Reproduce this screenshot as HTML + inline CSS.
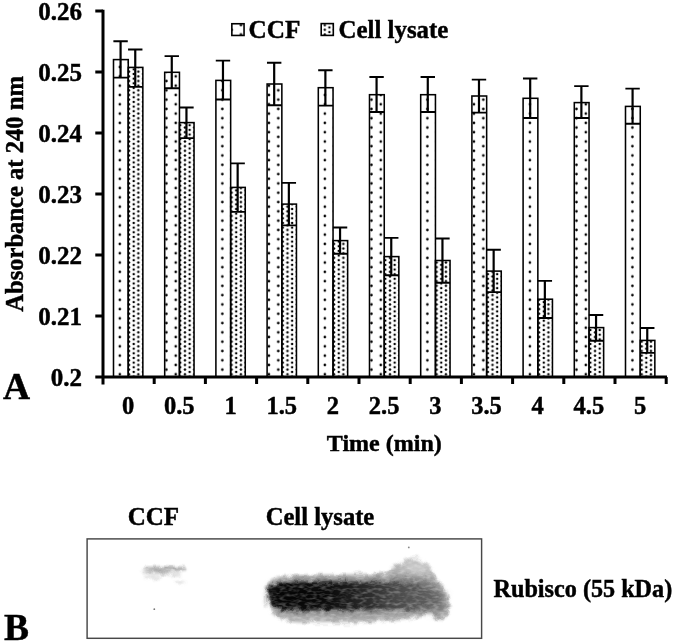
<!DOCTYPE html>
<html><head><meta charset="utf-8"><style>html,body{margin:0;padding:0;background:#fff;width:675px;height:642px;overflow:hidden}svg{display:block;will-change:transform}</style></head>
<body>
<svg width="675" height="642" viewBox="0 0 675 642">
<defs>
<pattern id="pc" patternUnits="userSpaceOnUse" x="119.8" y="1.9" width="18.64" height="9.31">
<circle cx="0" cy="0" r="1.3"/><circle cx="18.64" cy="0" r="1.3"/><circle cx="0" cy="9.31" r="1.3"/><circle cx="18.64" cy="9.31" r="1.3"/>
<circle cx="9.32" cy="4.655" r="1.3"/></pattern>
<pattern id="pl" patternUnits="userSpaceOnUse" x="133.7" y="302.1" width="9.32" height="4.655">
<circle cx="0" cy="0" r="1.25"/><circle cx="9.32" cy="0" r="1.25"/><circle cx="0" cy="4.655" r="1.25"/><circle cx="9.32" cy="4.655" r="1.25"/>
<circle cx="4.66" cy="2.3275" r="1.25"/></pattern>
<filter id="bl" x="-20%" y="-50%" width="140%" height="200%" color-interpolation-filters="sRGB"><feGaussianBlur stdDeviation="3"/></filter>
<filter id="bl2" x="-20%" y="-50%" width="140%" height="200%" color-interpolation-filters="sRGB"><feGaussianBlur stdDeviation="1.5"/></filter>
</defs>
<rect width="675" height="642" fill="#fff"/>

<rect x="113.50" y="59.60" width="14.75" height="317.40" fill="url(#pc)" stroke="#000" stroke-width="1.55"/>
<rect x="128.25" y="67.40" width="14.60" height="309.60" fill="url(#pl)" stroke="#000" stroke-width="1.55"/>
<rect x="164.70" y="72.30" width="14.75" height="304.70" fill="url(#pc)" stroke="#000" stroke-width="1.55"/>
<rect x="179.45" y="122.60" width="14.60" height="254.40" fill="url(#pl)" stroke="#000" stroke-width="1.55"/>
<rect x="215.90" y="80.40" width="14.75" height="296.60" fill="url(#pc)" stroke="#000" stroke-width="1.55"/>
<rect x="230.65" y="187.40" width="14.60" height="189.60" fill="url(#pl)" stroke="#000" stroke-width="1.55"/>
<rect x="267.10" y="84.00" width="14.75" height="293.00" fill="url(#pc)" stroke="#000" stroke-width="1.55"/>
<rect x="281.85" y="204.10" width="14.60" height="172.90" fill="url(#pl)" stroke="#000" stroke-width="1.55"/>
<rect x="318.30" y="87.70" width="14.75" height="289.30" fill="url(#pc)" stroke="#000" stroke-width="1.55"/>
<rect x="333.05" y="240.60" width="14.60" height="136.40" fill="url(#pl)" stroke="#000" stroke-width="1.55"/>
<rect x="369.50" y="94.70" width="14.75" height="282.30" fill="url(#pc)" stroke="#000" stroke-width="1.55"/>
<rect x="384.25" y="256.60" width="14.60" height="120.40" fill="url(#pl)" stroke="#000" stroke-width="1.55"/>
<rect x="420.70" y="94.70" width="14.75" height="282.30" fill="url(#pc)" stroke="#000" stroke-width="1.55"/>
<rect x="435.45" y="260.50" width="14.60" height="116.50" fill="url(#pl)" stroke="#000" stroke-width="1.55"/>
<rect x="471.90" y="96.00" width="14.75" height="281.00" fill="url(#pc)" stroke="#000" stroke-width="1.55"/>
<rect x="486.65" y="271.10" width="14.60" height="105.90" fill="url(#pl)" stroke="#000" stroke-width="1.55"/>
<rect x="523.10" y="98.30" width="14.75" height="278.70" fill="url(#pc)" stroke="#000" stroke-width="1.55"/>
<rect x="537.85" y="299.20" width="14.60" height="77.80" fill="url(#pl)" stroke="#000" stroke-width="1.55"/>
<rect x="574.30" y="102.60" width="14.75" height="274.40" fill="url(#pc)" stroke="#000" stroke-width="1.55"/>
<rect x="589.05" y="327.60" width="14.60" height="49.40" fill="url(#pl)" stroke="#000" stroke-width="1.55"/>
<rect x="625.50" y="106.40" width="14.75" height="270.60" fill="url(#pc)" stroke="#000" stroke-width="1.55"/>
<rect x="640.25" y="340.40" width="14.60" height="36.60" fill="url(#pl)" stroke="#000" stroke-width="1.55"/>
<path d="M113.50 77.60H128.25M113.38 41.30H127.78" stroke="#000" stroke-width="1.9" fill="none"/>
<path d="M120.58 41.30V77.60" stroke="#000" stroke-width="2.2" fill="none"/>
<path d="M128.25 86.90H142.85M128.05 49.50H142.45" stroke="#000" stroke-width="1.9" fill="none"/>
<path d="M135.25 49.50V86.90" stroke="#000" stroke-width="2.2" fill="none"/>
<path d="M164.70 88.20H179.45M164.57 56.10H178.97" stroke="#000" stroke-width="1.9" fill="none"/>
<path d="M171.77 56.10V88.20" stroke="#000" stroke-width="2.2" fill="none"/>
<path d="M179.45 138.10H194.05M179.25 107.50H193.65" stroke="#000" stroke-width="1.9" fill="none"/>
<path d="M186.45 107.50V138.10" stroke="#000" stroke-width="2.2" fill="none"/>
<path d="M215.90 99.50H230.65M215.78 60.60H230.17" stroke="#000" stroke-width="1.9" fill="none"/>
<path d="M222.97 60.60V99.50" stroke="#000" stroke-width="2.2" fill="none"/>
<path d="M230.65 211.90H245.25M230.45 163.40H244.85" stroke="#000" stroke-width="1.9" fill="none"/>
<path d="M237.65 163.40V211.90" stroke="#000" stroke-width="2.2" fill="none"/>
<path d="M267.10 105.30H281.85M266.98 62.80H281.38" stroke="#000" stroke-width="1.9" fill="none"/>
<path d="M274.18 62.80V105.30" stroke="#000" stroke-width="2.2" fill="none"/>
<path d="M281.85 225.40H296.45M281.65 182.90H296.05" stroke="#000" stroke-width="1.9" fill="none"/>
<path d="M288.85 182.90V225.40" stroke="#000" stroke-width="2.2" fill="none"/>
<path d="M318.30 105.60H333.05M318.18 70.20H332.57" stroke="#000" stroke-width="1.9" fill="none"/>
<path d="M325.38 70.20V105.60" stroke="#000" stroke-width="2.2" fill="none"/>
<path d="M333.05 253.70H347.65M332.85 227.50H347.25" stroke="#000" stroke-width="1.9" fill="none"/>
<path d="M340.05 227.50V253.70" stroke="#000" stroke-width="2.2" fill="none"/>
<path d="M369.50 112.00H384.25M369.38 77.00H383.77" stroke="#000" stroke-width="1.9" fill="none"/>
<path d="M376.57 77.00V112.00" stroke="#000" stroke-width="2.2" fill="none"/>
<path d="M384.25 275.20H398.85M384.05 237.90H398.45" stroke="#000" stroke-width="1.9" fill="none"/>
<path d="M391.25 237.90V275.20" stroke="#000" stroke-width="2.2" fill="none"/>
<path d="M420.70 112.00H435.45M420.58 77.00H434.98" stroke="#000" stroke-width="1.9" fill="none"/>
<path d="M427.78 77.00V112.00" stroke="#000" stroke-width="2.2" fill="none"/>
<path d="M435.45 282.70H450.05M435.25 238.50H449.65" stroke="#000" stroke-width="1.9" fill="none"/>
<path d="M442.45 238.50V282.70" stroke="#000" stroke-width="2.2" fill="none"/>
<path d="M471.90 112.60H486.65M471.78 79.60H486.18" stroke="#000" stroke-width="1.9" fill="none"/>
<path d="M478.98 79.60V112.60" stroke="#000" stroke-width="2.2" fill="none"/>
<path d="M486.65 292.10H501.25M486.45 249.80H500.85" stroke="#000" stroke-width="1.9" fill="none"/>
<path d="M493.65 249.80V292.10" stroke="#000" stroke-width="2.2" fill="none"/>
<path d="M523.10 118.00H537.85M522.98 78.50H537.38" stroke="#000" stroke-width="1.9" fill="none"/>
<path d="M530.18 78.50V118.00" stroke="#000" stroke-width="2.2" fill="none"/>
<path d="M537.85 318.00H552.45M537.65 280.90H552.05" stroke="#000" stroke-width="1.9" fill="none"/>
<path d="M544.85 280.90V318.00" stroke="#000" stroke-width="2.2" fill="none"/>
<path d="M574.30 118.00H589.05M574.17 86.10H588.58" stroke="#000" stroke-width="1.9" fill="none"/>
<path d="M581.38 86.10V118.00" stroke="#000" stroke-width="2.2" fill="none"/>
<path d="M589.05 340.70H603.65M588.85 315.00H603.25" stroke="#000" stroke-width="1.9" fill="none"/>
<path d="M596.05 315.00V340.70" stroke="#000" stroke-width="2.2" fill="none"/>
<path d="M625.50 123.70H640.25M625.38 88.60H639.78" stroke="#000" stroke-width="1.9" fill="none"/>
<path d="M632.58 88.60V123.70" stroke="#000" stroke-width="2.2" fill="none"/>
<path d="M640.25 352.90H654.85M640.05 328.00H654.45" stroke="#000" stroke-width="1.9" fill="none"/>
<path d="M647.25 328.00V352.90" stroke="#000" stroke-width="2.2" fill="none"/>
<path d="M103 9.8V384.5M95.3 377H667" stroke="#000" stroke-width="3" fill="none"/>
<path d="M95.3 316.00H103M95.3 255.00H103M95.3 194.00H103M95.3 133.00H103M95.3 72.00H103M95.3 11.00H103" stroke="#000" stroke-width="2.8" fill="none"/>
<path d="M154.20 377V384M205.40 377V384M256.60 377V384M307.80 377V384M359.00 377V384M410.20 377V384M461.40 377V384M512.60 377V384M563.80 377V384M615.00 377V384M666.20 377V384" stroke="#000" stroke-width="3" fill="none"/>
<text x="82" y="385.50" font-family="Liberation Serif" font-weight="bold" stroke="#000" stroke-width="0.45" font-size="25" text-anchor="end">0.2</text>
<text x="82" y="324.50" font-family="Liberation Serif" font-weight="bold" stroke="#000" stroke-width="0.45" font-size="25" text-anchor="end">0.21</text>
<text x="82" y="263.50" font-family="Liberation Serif" font-weight="bold" stroke="#000" stroke-width="0.45" font-size="25" text-anchor="end">0.22</text>
<text x="82" y="202.50" font-family="Liberation Serif" font-weight="bold" stroke="#000" stroke-width="0.45" font-size="25" text-anchor="end">0.23</text>
<text x="82" y="141.50" font-family="Liberation Serif" font-weight="bold" stroke="#000" stroke-width="0.45" font-size="25" text-anchor="end">0.24</text>
<text x="82" y="80.50" font-family="Liberation Serif" font-weight="bold" stroke="#000" stroke-width="0.45" font-size="25" text-anchor="end">0.25</text>
<text x="82" y="19.50" font-family="Liberation Serif" font-weight="bold" stroke="#000" stroke-width="0.45" font-size="25" text-anchor="end">0.26</text>
<text x="128.10" y="414" font-family="Liberation Serif" font-weight="bold" stroke="#000" stroke-width="0.45" font-size="24.5" text-anchor="middle">0</text>
<text x="179.30" y="414" font-family="Liberation Serif" font-weight="bold" stroke="#000" stroke-width="0.45" font-size="24.5" text-anchor="middle">0.5</text>
<text x="230.50" y="414" font-family="Liberation Serif" font-weight="bold" stroke="#000" stroke-width="0.45" font-size="24.5" text-anchor="middle">1</text>
<text x="281.70" y="414" font-family="Liberation Serif" font-weight="bold" stroke="#000" stroke-width="0.45" font-size="24.5" text-anchor="middle">1.5</text>
<text x="332.90" y="414" font-family="Liberation Serif" font-weight="bold" stroke="#000" stroke-width="0.45" font-size="24.5" text-anchor="middle">2</text>
<text x="384.10" y="414" font-family="Liberation Serif" font-weight="bold" stroke="#000" stroke-width="0.45" font-size="24.5" text-anchor="middle">2.5</text>
<text x="435.30" y="414" font-family="Liberation Serif" font-weight="bold" stroke="#000" stroke-width="0.45" font-size="24.5" text-anchor="middle">3</text>
<text x="486.50" y="414" font-family="Liberation Serif" font-weight="bold" stroke="#000" stroke-width="0.45" font-size="24.5" text-anchor="middle">3.5</text>
<text x="537.70" y="414" font-family="Liberation Serif" font-weight="bold" stroke="#000" stroke-width="0.45" font-size="24.5" text-anchor="middle">4</text>
<text x="588.90" y="414" font-family="Liberation Serif" font-weight="bold" stroke="#000" stroke-width="0.45" font-size="24.5" text-anchor="middle">4.5</text>
<text x="640.10" y="414" font-family="Liberation Serif" font-weight="bold" stroke="#000" stroke-width="0.45" font-size="24.5" text-anchor="middle">5</text>
<text x="384.3" y="451" font-family="Liberation Serif" font-weight="bold" stroke="#000" stroke-width="0.45" font-size="24" text-anchor="middle">Time (min)</text>
<text transform="translate(23.1 193.95) rotate(-90)" font-family="Liberation Serif" font-weight="bold" stroke="#000" stroke-width="0.45" font-size="24.6" text-anchor="middle">Absorbance at 240 nm</text>
<text x="3" y="399.3" font-family="Liberation Serif" font-weight="bold" stroke="#000" stroke-width="0.45" font-size="37.5">A</text>
<text x="4" y="639.5" font-family="Liberation Serif" font-weight="bold" stroke="#000" stroke-width="0.45" font-size="37.5">B</text>
<rect x="231.85" y="23.75" width="12.2" height="11.7" fill="url(#pc)" stroke="#000" stroke-width="1.6"/>
<text x="248.5" y="37.5" font-family="Liberation Serif" font-weight="bold" stroke="#000" stroke-width="0.45" font-size="25.2">CCF</text>
<rect x="321.2" y="23.6" width="12.1" height="11.8" fill="url(#pl)" stroke="#000" stroke-width="1.6"/>
<text x="338.5" y="37.5" font-family="Liberation Serif" font-weight="bold" stroke="#000" stroke-width="0.45" font-size="24.9">Cell lysate</text>
<text x="153.4" y="524.8" font-family="Liberation Serif" font-weight="bold" stroke="#000" stroke-width="0.45" font-size="25" text-anchor="middle">CCF</text>
<text x="320" y="524.8" font-family="Liberation Serif" font-weight="bold" stroke="#000" stroke-width="0.45" font-size="24.6" text-anchor="middle">Cell lysate</text>
<text x="493.5" y="597" font-family="Liberation Serif" font-weight="bold" stroke="#000" stroke-width="0.45" font-size="24.2">Rubisco (55 kDa)</text>
<rect x="87.1" y="538.9" width="394.5" height="99.4" fill="none" stroke="#484848" stroke-width="1.45"/>
<defs><filter id="bl1" x="-30%" y="-100%" width="160%" height="300%" color-interpolation-filters="sRGB"><feGaussianBlur stdDeviation="1.6"/></filter></defs>
<g filter="url(#tex)"><g filter="url(#bl1)"><ellipse cx="166" cy="568.8" rx="22" ry="2.4" fill="#a4a4a4"/><ellipse cx="158" cy="572.5" rx="15" ry="1.6" fill="#c4c4c4"/><ellipse cx="172" cy="574" rx="9" ry="1.4" fill="#cfcfcf"/><ellipse cx="152" cy="577.5" rx="9" ry="1.4" fill="#d4d4d4"/><ellipse cx="180" cy="582" rx="4" ry="2" fill="#e0e0e0"/></g></g>
<circle cx="154.3" cy="609.2" r="0.9" fill="#777"/><circle cx="408.8" cy="547.4" r="0.9" fill="#888"/>
<defs><linearGradient id="bh" x1="268" x2="440" y1="0" y2="0" gradientUnits="userSpaceOnUse"><stop offset="0" stop-color="#1a1a1a"/><stop offset="0.06" stop-color="#0a0a0a"/><stop offset="0.4" stop-color="#141414"/><stop offset="0.55" stop-color="#262626"/><stop offset="0.75" stop-color="#4a4a4a"/><stop offset="0.9" stop-color="#5a5a5a"/><stop offset="1" stop-color="#6a6a6a"/></linearGradient><filter id="tex" x="-10%" y="-30%" width="120%" height="160%" color-interpolation-filters="sRGB"><feTurbulence type="fractalNoise" baseFrequency="0.15 0.35" numOctaves="2" seed="7" result="n0"/><feGaussianBlur in="n0" stdDeviation="0.5" result="n"/><feTurbulence type="fractalNoise" baseFrequency="0.12" numOctaves="2" seed="3" result="d"/><feDisplacementMap in="SourceGraphic" in2="d" scale="7" xChannelSelector="R" yChannelSelector="G" result="sg"/><feColorMatrix in="n" type="matrix" values="0 0 0 0 1  0 0 0 0 1  0 0 0 0 1  0.7 0 0 0 -0.3" result="w"/><feComposite in="w" in2="sg" operator="in" result="wm"/><feMerge><feMergeNode in="sg"/><feMergeNode in="wm"/></feMerge></filter><filter id="bl3" x="-20%" y="-50%" width="140%" height="200%" color-interpolation-filters="sRGB"><feGaussianBlur stdDeviation="4"/></filter></defs>
<g filter="url(#tex)"><g filter="url(#bl2)"><path d="M267 590 C268 580 275 576 290 576 C320 574 360 576 385 573 C395 566 405 558 415 558 C425 560 433 570 438 580 C446 590 450 600 449 610 C447 619 441 621 436 616 C428 612 420 615 410 619 C380 623 330 624 290 622 C277 620 268 612 267 600 Z" fill="#b2b2b2"/></g><g filter="url(#bl)"><path d="M268 590 C270 582 285 579 320 579 C360 579 390 578 405 577 C420 575 432 580 440 588 C447 596 448 606 444 613 C438 616 432 612 425 612 C410 612 400 613 380 614 C340 615 300 614 280 612 C271 608 268 600 268 595 Z" fill="#777"/></g><g filter="url(#bl2)"><path d="M268 588 C272 583 290 582 320 582 C360 582 390 582 410 584 C428 586 438 594 440 602 C436 608 420 609 400 609 C360 610 310 610 282 609 C272 606 268 600 268 594 Z" fill="url(#bh)"/></g><g filter="url(#bl3)"><ellipse cx="305" cy="596" rx="32" ry="8" fill="#000" opacity="0.6"/><ellipse cx="416" cy="567" rx="13" ry="7" fill="#fff" opacity="0.35"/></g></g>
</svg>
</body></html>
